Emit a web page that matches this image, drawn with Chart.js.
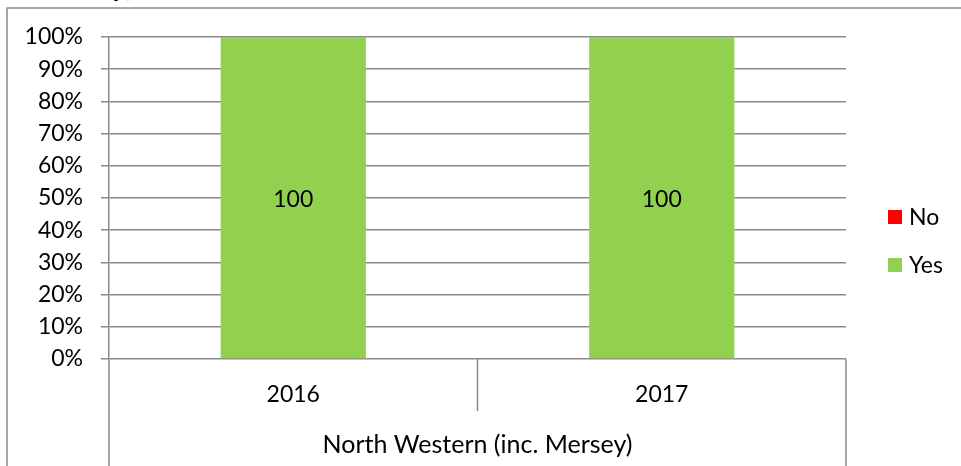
<!DOCTYPE html>
<html>
<head>
<meta charset="utf-8">
<script src="https://cdn.jsdelivr.net/npm/chart.js@4/dist/chart.umd.min.js"></script>
<style>
  html, body { margin: 0; padding: 0; background: #fff; }
  #chart { display: block; }
</style>
</head>
<body>
<canvas id="chart" width="961" height="466"></canvas>
<script>
var years = ['2016', '2017'];
var groupLabel = 'North Western (inc. Mersey)';
var yesValues = [100, 100];
var noValues = [0, 0];
var yTicks = [0, 10, 20, 30, 40, 50, 60, 70, 80, 90, 100];

var font = 'Lato';
var gray = '#8a8a8a';

// draws the hierarchical x axis, value labels, legend and outer frame
var decorations = {
    id: 'decorations',
    afterDraw: function (chart) {
        var ctx = chart.ctx;
        var area = chart.chartArea;
        var x = chart.scales.x;
        ctx.save();
        ctx.strokeStyle = gray;
        ctx.lineWidth = 1.5;

        // outer frame (cut off)
        ctx.beginPath();
        ctx.moveTo(7, 466);
        ctx.lineTo(7, 8);
        ctx.lineTo(961, 8);
        ctx.stroke();

        // axis separators
        var left = area.left, right = area.right;
        var mid = (x.getPixelForValue(0) + x.getPixelForValue(1)) / 2;
        ctx.beginPath();
        ctx.moveTo(left, area.bottom);
        ctx.lineTo(left, 466);
        ctx.moveTo(right, area.bottom);
        ctx.lineTo(right, 466);
        ctx.moveTo(mid, area.bottom);
        ctx.lineTo(mid, area.bottom + 52);
        ctx.stroke();

        // group label
        ctx.fillStyle = '#000';
        ctx.font = '25px ' + font;
        ctx.textAlign = 'center';
        ctx.textBaseline = 'middle';
        ctx.fillText(groupLabel, (left + right) / 2, 445);

        // value labels
        ctx.font = '23px ' + font;
        var meta = chart.getDatasetMeta(0);
        meta.data.forEach(function (bar, i) {
            ctx.fillText(String(yesValues[i]), bar.x, (bar.y + bar.base) / 2 + 2);
        });

        // legend (reversed order)
        var items = [
            { text: 'No', color: chart.data.datasets[1].backgroundColor },
            { text: 'Yes', color: chart.data.datasets[0].backgroundColor }
        ];
        ctx.textAlign = 'left';
        items.forEach(function (it, i) {
            var cy = 217 + i * 48;
            ctx.fillStyle = it.color;
            ctx.fillRect(888, cy - 7, 14, 14);
            ctx.fillStyle = '#000';
            ctx.fillText(it.text, 909, cy + 1);
        });

        // cut-off title above the frame
        ctx.font = 'bold 28px ' + font;
        ctx.textAlign = 'right';
        ctx.textBaseline = 'alphabetic';
        ctx.fillText('y)', 133, -4);
        ctx.restore();
    }
};

new Chart(document.getElementById('chart'), {
    type: 'bar',
    data: {
        labels: years,
        datasets: [
            { label: 'Yes', data: yesValues, backgroundColor: '#92D050', categoryPercentage: 1, barPercentage: 0.394 },
            { label: 'No', data: noValues, backgroundColor: '#FF0000', categoryPercentage: 1, barPercentage: 0.394 }
        ]
    },
    options: {
        responsive: false,
        animation: false,
        layout: { padding: { top: 37, right: 115, left: 0, bottom: 0 } },
        plugins: { legend: { display: false }, tooltip: { enabled: false } },
        scales: {
            x: {
                stacked: true,
                grid: { display: false, drawTicks: false },
                border: { display: false },
                ticks: { color: '#000', font: { family: font, size: 23 }, padding: 22 },
                afterFit: function (s) { s.height = 107; }
            },
            y: {
                stacked: true,
                min: 0,
                max: 100,
                afterBuildTicks: function (s) { s.ticks = yTicks.map(function (v) { return { value: v }; }); },
                grid: { color: gray, lineWidth: 1.5, tickLength: 8 },
                border: { color: gray, width: 1.5 },
                ticks: {
                    color: '#000',
                    font: { family: font, size: 23 },
                    padding: 18,
                    callback: function (v) { return v + '%'; }
                },
                afterFit: function (s) { s.width = 109; }
            }
        }
    },
    plugins: [decorations]
});
</script>
</body>
</html>
